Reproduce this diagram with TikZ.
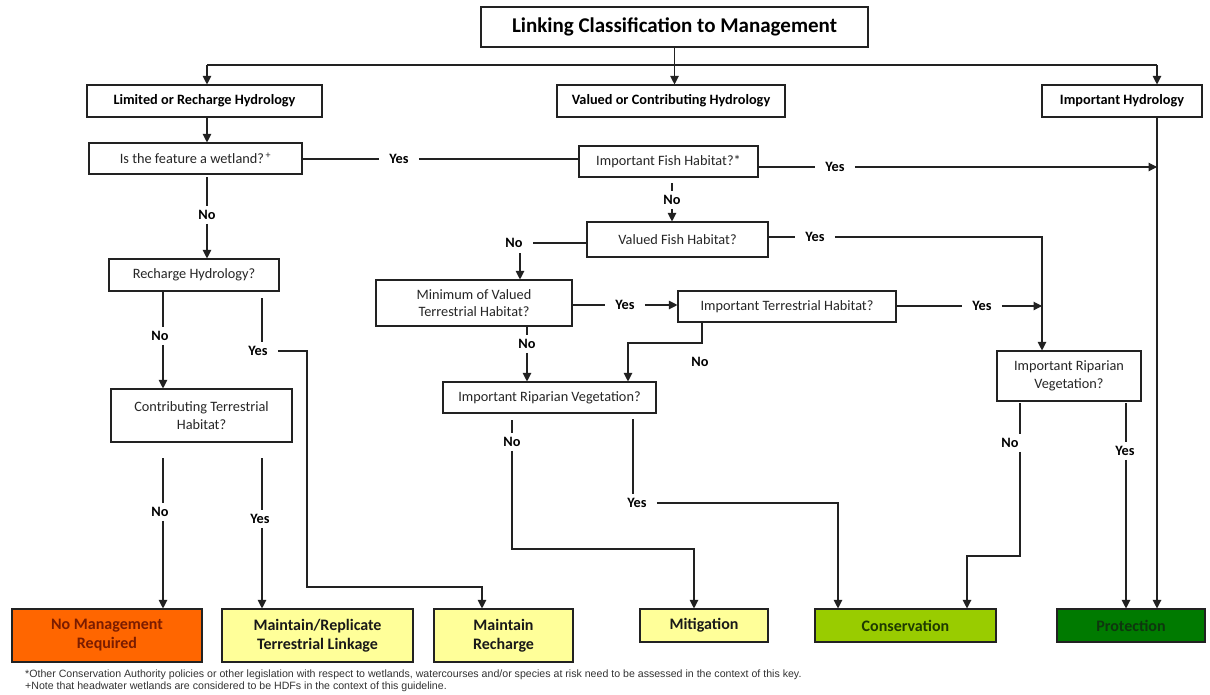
\documentclass[tikz,border=0pt]{standalone}
\usepackage{fontspec}
\setmainfont{Carlito}
\newfontfamily\footfont{Liberation Sans}
\usetikzlibrary{arrows.meta}
\definecolor{nomfill}{HTML}{FF6600}
\definecolor{nomtext}{HTML}{7A1C00}
\definecolor{yelfill}{HTML}{FFFF99}
\definecolor{confill}{HTML}{99CC00}
\definecolor{context}{HTML}{1E3A00}
\definecolor{profill}{HTML}{007A00}
\definecolor{protext}{HTML}{0E360E}
\definecolor{linecol}{HTML}{222222}
\tikzset{
  box/.style={draw=linecol, line width=1.1pt, inner sep=0pt, align=center,
    font=\fontsize{14.3}{17.5}\selectfont, text=black!85},
  hbox/.style={box, font=\bfseries\fontsize{14.3}{17.5}\selectfont, text=black},
  tbox/.style={box, font=\bfseries\fontsize{21}{25}\selectfont, text=black},
  outbox/.style={draw=linecol, line width=1.1pt, inner sep=0pt, align=center,
    font=\bfseries\fontsize{16}{19}\selectfont},
  lbl/.style={font=\bfseries\fontsize{14.3}{16}\selectfont, inner xsep=10pt, inner ysep=4pt, text=black},
  ln/.style={line width=1.1pt, draw=linecol},
  arr/.style={ln, -{Triangle[length=8.5pt,width=8.5pt]}},
  foot/.style={font=\footfont\fontsize{10.6}{12}\selectfont, text=black!80, inner sep=0pt, anchor=west}
}
\begin{document}
\begin{tikzpicture}[x=1pt,y=-1pt]
\useasboundingbox[fill=white] (0,0) rectangle (1210,694);

% ---- boxes ----
\node[tbox, minimum width=387, minimum height=40] (title) at (674.5,27) {Linking Classification to Management};
\node[hbox, minimum width=235, minimum height=32] (lim) at (204.5,101) {Limited or Recharge Hydrology};
\node[hbox, minimum width=228, minimum height=32] (val) at (671,101) {Valued or Contributing Hydrology};
\node[hbox, minimum width=160, minimum height=32] (imp) at (1122,101) {Important Hydrology};
\node[box, minimum width=213, minimum height=31] (wet) at (195.5,158.5) {Is the feature a wetland?\textsuperscript{\,+}};
\node[box, minimum width=179, minimum height=31] (ifh) at (668.5,161.5) {Important Fish Habitat?*};
\node[box, minimum width=181, minimum height=35] (vfh) at (677.5,239.5) {Valued Fish Habitat?};
\node[box, minimum width=170, minimum height=32] (rch) at (194,275) {Recharge Hydrology?};
\node[box, minimum width=196, minimum height=46] (min) at (474,303) {Minimum of Valued\\Terrestrial Habitat?};
\node[box, minimum width=218, minimum height=31] (itr) at (787,306.5) {Important Terrestrial Habitat?};
\node[box, minimum width=181, minimum height=53] (ctr) at (201.5,415.5) {Contributing Terrestrial\\Habitat?};
\node[box, minimum width=213, minimum height=31] (irv) at (549.5,397.5) {Important Riparian Vegetation?};
\node[box, minimum width=144, minimum height=50] (irv2) at (1069,376) {Important Riparian\\Vegetation?};

\node[outbox, fill=nomfill, text=nomtext, minimum width=190, minimum height=53] (nom) at (107,635.5) {No Management\\Required};
\node[outbox, fill=yelfill, text=black!90, minimum width=191, minimum height=53] (mrt) at (317.5,635.5) {Maintain/Replicate\\Terrestrial Linkage};
\node[outbox, fill=yelfill, text=black!90, minimum width=139, minimum height=53] (mre) at (503.5,635.5) {Maintain\\Recharge};
\node[outbox, fill=yelfill, text=black!90, minimum width=128, minimum height=33] (mit) at (704,625.5) {Mitigation};
\node[outbox, fill=confill, text=context, minimum width=181, minimum height=33] (con) at (905.5,625.5) {Conservation};
\node[outbox, fill=profill, text=protext, minimum width=148, minimum height=33] (pro) at (1131,625.5) {Protection};

% ---- top distribution ----
\coordinate (barL) at (207,65);
\coordinate (barR) at (1157,65);
\coordinate (impX) at (1157,0);
\draw[ln] (barL) -- (barR);
\draw[arr] (title.south) -- (title.south |- val.north);
\draw[arr] (barL) -- (barL |- lim.north);
\draw[arr] (barR) -- (barR |- imp.north);
\draw[arr] (imp.south -| impX) -- (pro.north -| impX);

% ---- left branch ----
\draw[arr] (barL |- lim.south) -- (barL |- wet.north);
\node[lbl] (yW) at (399,159) {Yes};
\draw[ln] (wet.east |- yW) -- (yW.west);
\draw[ln] (yW.east) -- (ifh.west |- yW);

\node[lbl] (nW) at (207,215) {No};
\coordinate (wA) at (207,177);
\draw[ln] (wA) -- (nW.north);
\draw[arr] (nW.south) -- (nW.south |- rch.north);

\coordinate (hX) at (163,0);
\node[lbl] (nH) at (160,336) {No};
\draw[ln] (hX |- rch.south) -- (hX |- nH.north);
\draw[arr] (hX |- nH.south) -- (hX |- ctr.north);

\node[lbl] (yH) at (258,351) {Yes};
\coordinate (hY) at (262,298);
\coordinate (hZ) at (307,587);
\coordinate (hW) at (482,587);
\draw[ln] (hY) -- (hY |- yH.north);
\draw[arr] (yH.east) -| (hZ) -- (hW) -- (hW |- mre.north);

\node[lbl] (nC) at (160,512) {No};
\coordinate (cA) at (163,458);
\draw[ln] (cA) -- (cA |- nC.north);
\draw[arr] (cA |- nC.south) -- (cA |- nom.north);

\node[lbl] (yC) at (260,519) {Yes};
\coordinate (cB) at (262,458);
\draw[ln] (cB) -- (cB |- yC.north);
\draw[arr] (cB |- yC.south) -- (cB |- mrt.north);

% ---- middle branch ----
\node[lbl] (yF) at (835,167) {Yes};
\draw[ln] (ifh.east |- yF) -- (yF.west);
\draw[arr] (yF.east) -- (impX |- yF);

\node[lbl] (nF) at (672,200) {No};
\coordinate (fA) at (672,183);
\draw[ln] (fA) -- (nF.north);
\draw[arr] (nF.south) -- (nF.south |- vfh.north);

\node[lbl] (nV) at (514,243) {No};
\coordinate (vA) at (520,253);
\draw[ln] (vfh.west |- nV) -- (nV.east);
\draw[arr] (vA) -- (vA |- min.north);

\coordinate (rX) at (1042,0);
\node[lbl] (yV) at (815,237) {Yes};
\draw[ln] (vfh.east |- yV) -- (yV.west);
\draw[arr] (yV.east) -| (rX |- irv2.north);

\node[lbl] (yM) at (625,305) {Yes};
\draw[ln] (min.east |- yM) -- (yM.west);
\draw[arr] (yM.east) -- (itr.west |- yM);

\node[lbl] (yT) at (982,306) {Yes};
\draw[ln] (itr.east |- yT) -- (yT.west);
\draw[arr] (yT.east) -- (rX |- yT);

\coordinate (tX) at (702,343);
\coordinate (tY) at (628,343);
\draw[arr] (itr.south -| tX) -- (tX) -- (tY) -- (tY |- irv.north);
\node[lbl] (nT) at (700,362) {No};

\node[lbl] (nM) at (527,344) {No};
\draw[ln] (min.south -| nM) -- (nM.north);
\draw[arr] (nM.south) -- (nM.south |- irv.north);

\node[lbl] (nI) at (512,442) {No};
\coordinate (iA) at (512,420);
\coordinate (iB) at (694,549);
\draw[ln] (iA) -- (nI.north);
\draw[arr] (nI.south) |- (iB) -- (iB |- mit.north);

\node[lbl] (yI) at (637,503) {Yes};
\coordinate (iC) at (633,419);
\coordinate (iD) at (838,0);
\draw[ln] (iC) -- (iC |- yI.north);
\draw[arr] (yI.east) -| (iD |- con.north);

% ---- right branch ----
\node[lbl] (nR) at (1010,443) {No};
\coordinate (rA) at (1020,403);
\coordinate (rB) at (1020,556);
\coordinate (rC) at (967,556);
\draw[ln] (rA) -- (rA |- nR.north);
\draw[arr] (rB |- nR.south) -- (rB) -- (rC) -- (rC |- con.north);

\node[lbl] (yR) at (1125,451) {Yes};
\coordinate (rD) at (1126,403);
\draw[ln] (rD) -- (rD |- yR.north);
\draw[arr] (rD |- yR.south) -- (rD |- pro.north);

% ---- footnotes ----
\node[foot] (f1) at (25,675) {*Other Conservation Authority policies or other legislation with respect to wetlands, watercourses and/or species at risk need to be assessed in the context of this key.};
\node[foot] (f2) at (25,687) {+Note that headwater wetlands are considered to be HDFs in the context of this guideline.};
\end{tikzpicture}
\end{document}
